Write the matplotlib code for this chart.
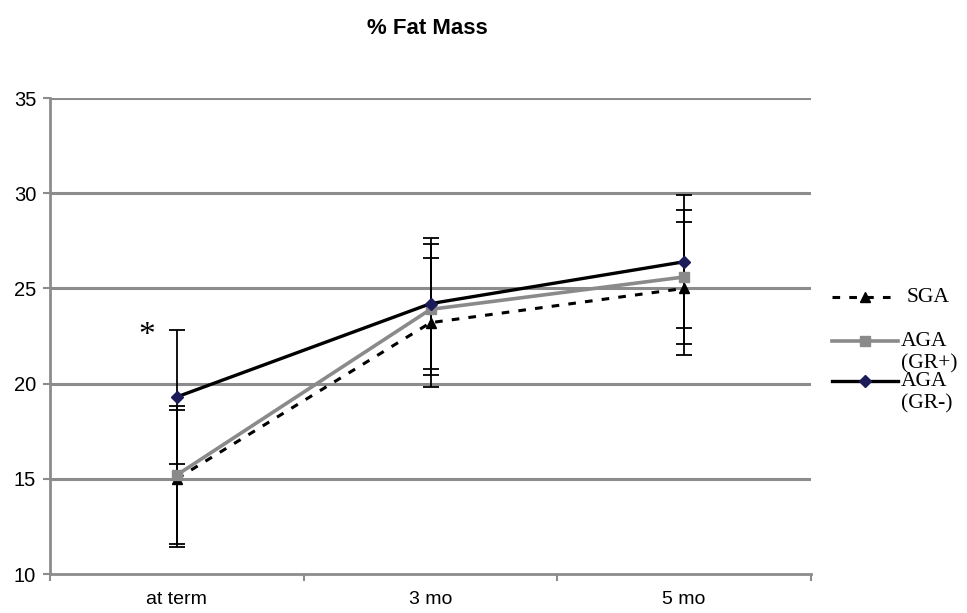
import matplotlib
matplotlib.use("Agg")
import matplotlib.pyplot as plt
from matplotlib.lines import Line2D
import numpy as np

categories = ["at term", "3 mo", "5 mo"]
sga = [15.0, 23.2, 25.0]
sga_sd = [3.6, 3.4, 3.5]
gr_plus = [15.2, 23.9, 25.6]
gr_plus_sd = [3.6, 3.45, 3.5]
gr_minus = [19.3, 24.2, 26.4]
gr_minus_sd = [3.5, 3.45, 3.5]
yticks = [10, 15, 20, 25, 30, 35]

plt.rcParams['font.family'] = ['Liberation Sans', 'DejaVu Sans']

fig = plt.figure(figsize=(9.67, 6.13), dpi=100)
ax = fig.add_axes([50/967, 1-574/613, (811-50)/967, (574-98)/613])

x = np.arange(len(categories))
grid_c = "#8c8c8c"
for yv in yticks[1:]:
    ax.axhline(yv, color=grid_c, lw=2.2, zorder=1)

eb_kw = dict(ecolor="black", elinewidth=1.3, capsize=6, capthick=1.3, zorder=3)
ax.errorbar(x, sga, yerr=sga_sd, fmt="none", **eb_kw)
ax.errorbar(x, gr_plus, yerr=gr_plus_sd, fmt="none", **eb_kw)
ax.errorbar(x, gr_minus, yerr=gr_minus_sd, fmt="none", **eb_kw)

ax.plot(x, sga, color="black", ls=(0, (2.5, 3)), lw=2.2, marker="^", ms=7,
        mfc="black", mec="black", zorder=4)
ax.plot(x, gr_plus, color="#8a8a8a", ls="-", lw=2.6, marker="s", ms=7,
        mfc="#8a8a8a", mec="#8a8a8a", zorder=5)
ax.plot(x, gr_minus, color="black", ls="-", lw=2.4, marker="D", ms=6,
        mfc="#1c1c5a", mec="#1c1c5a", zorder=6)

ax.set_xlim(-0.5, 2.5)
ax.set_ylim(10, 35)
ax.set_yticks(yticks)
ax.set_yticklabels([str(v) for v in yticks], fontsize=14.5)
ax.set_xticks(x)
ax.set_xticklabels(categories, fontsize=14)
ax.set_xticks([-0.5, 0.5, 1.5, 2.5], minor=True)
ax.tick_params(axis="x", which="major", length=0, pad=12)
ax.tick_params(axis="x", which="minor", length=5, width=1.5, color=grid_c, direction="out")
ax.tick_params(axis="y", length=5, width=1.5, color=grid_c, pad=5)

for s in ["top", "right"]:
    ax.spines[s].set_visible(False)
for s in ["left", "bottom"]:
    ax.spines[s].set_color(grid_c)
    ax.spines[s].set_linewidth(2)

ax.text(-0.12, 22.5, "*", fontsize=24, family="Liberation Serif", ha="center", va="center")

fig.text(427/967, 1-28/613, "% Fat Mass", fontsize=16, fontweight="bold",
         ha="center", va="center")

# legend (manual)
serif = "Liberation Serif"
entries = [
    ("SGA", dict(color="black", ls=(0, (2.5, 3)), lw=2.2, marker="^", ms=7, mfc="black", mec="black"), 297, 907),
    ("AGA\n(GR+)", dict(color="#8a8a8a", ls="-", lw=2.6, marker="s", ms=7, mfc="#8a8a8a", mec="#8a8a8a"), 341, 901),
    ("AGA\n(GR-)", dict(color="black", ls="-", lw=2.4, marker="D", ms=6, mfc="#1c1c5a", mec="#1c1c5a"), 381, 901),
]
for label, style, ypix, xtext in entries:
    yf = 1 - ypix/613
    fig.add_artist(Line2D([832/967, 898/967], [yf, yf], transform=fig.transFigure,
                          **{k: v for k, v in style.items() if k not in ("marker", "ms", "mfc", "mec")}))
    fig.add_artist(Line2D([865/967], [yf], transform=fig.transFigure, ls="none",
                          marker=style["marker"], ms=style["ms"], mfc=style["mfc"], mec=style["mec"]))
    lines = label.split("\n")
    for i, t in enumerate(lines):
        fig.text(xtext/967, 1 - (ypix + 1 + i*22)/613, t, fontsize=15.5, family=serif,
                 ha="left", va="center")

fig.savefig("out.png", dpi=100)
